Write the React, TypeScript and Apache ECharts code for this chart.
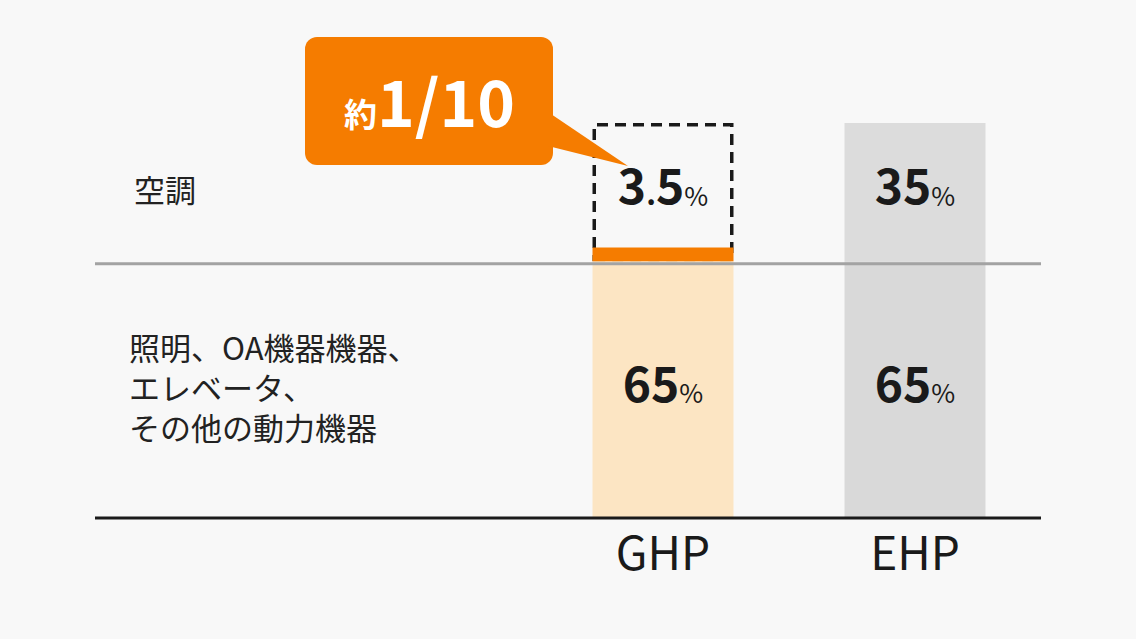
import React, { useEffect, useRef } from "react";
import * as echarts from "echarts";

const categories = ["GHP", "EHP"];
const otherLoad = [65, 65];
const aircon = [3.5, 35];
const rowLabelTop = "空調";
const rowLabelBottom = ["照明、OA機器機器、", "エレベータ、", "その他の動力機器"];
const calloutPrefix = "約";
const calloutValue = "1/10";

const FONT = '"Noto Sans CJK JP", "Noto Sans", sans-serif';
const ORANGE = "#F57C00";
const LIGHT_ORANGE = "#FCE5C3";
const GRAY_TOP = "#DCDCDC";
const GRAY_BOTTOM = "#D9D9D9";
const INK = "#1A1A1A";

const fmt = (v: number) =>
  String(v)
    .split("")
    .map((ch) => (ch === "." ? "{d|.}" : `{n|${ch}}`))
    .join("") + "{p|%}";

const rich = {
  n: { fontSize: 48, fontWeight: "bold", color: INK, fontFamily: FONT, lineHeight: 48, verticalAlign: "bottom" },
  d: { fontSize: 30, fontWeight: "bold", color: INK, fontFamily: FONT, lineHeight: 34, verticalAlign: "bottom" },
  p: { fontSize: 26, fontWeight: "normal", color: INK, fontFamily: FONT, lineHeight: 32, verticalAlign: "bottom" },
};

const LABEL_OFFSET = [0, -9];

const leftText = (text: string, x: number, y: number) => ({
  type: "text",
  x,
  y,
  style: {
    text,
    fontSize: 31,
    fontFamily: FONT,
    fill: "#222222",
    align: "left",
    verticalAlign: "middle",
    textAlign: "left",
    textVerticalAlign: "middle",
  },
});

export default function App() {
  const ref = useRef<HTMLDivElement>(null);
  useEffect(() => {
    document.body.style.margin = "0";
    document.body.style.background = "#F8F8F8";
    const chart = echarts.init(ref.current!, undefined, { renderer: "svg" });
    chart.setOption({
      animation: false,
      backgroundColor: "#F8F8F8",
      grid: { left: 537, right: 95, top: 123, bottom: 121 },
      xAxis: {
        type: "category",
        data: categories,
        axisLine: { show: false },
        axisTick: { show: false },
        axisLabel: { fontSize: 46, color: INK, margin: 9, fontFamily: FONT },
      },
      yAxis: { type: "value", min: 0, max: 100, show: false, splitLine: { show: false } },
      series: [
        {
          name: "other",
          type: "bar",
          stack: "main",
          barWidth: 141,
          barGap: "-100%",
          z: 2,
          data: otherLoad.map((v, i) => ({
            value: v,
            itemStyle: { color: i === 0 ? LIGHT_ORANGE : GRAY_BOTTOM },
          })),
          label: { show: true, position: "inside", offset: LABEL_OFFSET, formatter: (p: any) => fmt(p.value), rich },
        },
        {
          name: "aircon",
          type: "bar",
          stack: "main",
          barWidth: 141,
          barGap: "-100%",
          z: 2,
          data: aircon.map((v, i) => ({
            value: v,
            itemStyle: { color: i === 0 ? ORANGE : GRAY_TOP },
            label: { show: i !== 0 },
          })),
          label: { show: true, position: "inside", offset: LABEL_OFFSET, formatter: (p: any) => fmt(p.value), rich },
        },
        {
          name: "ghostBase",
          type: "bar",
          stack: "ghost",
          barWidth: 141,
          barGap: "-100%",
          silent: true,
          z: 1,
          data: [otherLoad[0], "-"],
          itemStyle: { color: "transparent" },
        },
        {
          name: "ghostBox",
          type: "bar",
          stack: "ghost",
          barWidth: 141,
          barGap: "-100%",
          silent: true,
          z: 1,
          data: [aircon[1], "-"],
          itemStyle: {
            color: "transparent",
            borderColor: INK,
            borderWidth: 3.5,
            borderType: [11, 7],
          },
          label: {
            show: true,
            position: "inside",
            offset: LABEL_OFFSET,
            formatter: () => fmt(aircon[0]),
            rich,
          },
        },
      ],
    });

    const y0 = chart.convertToPixel({ yAxisIndex: 0 }, 0) as number;
    const y65 = chart.convertToPixel({ yAxisIndex: 0 }, otherLoad[1]) as number;

    chart.setOption({
      graphic: [
        {
          type: "line",
          z: 100,
          shape: { x1: 95, y1: y0, x2: 1041, y2: y0 },
          style: { stroke: INK, lineWidth: 3 },
        },
        {
          type: "line",
          z: 100,
          shape: { x1: 95, y1: y65 + 2.5, x2: 1041, y2: y65 + 2.5 },
          style: { stroke: "#A3A3A3", lineWidth: 3 },
        },
        leftText(rowLabelTop, 134, 188),
        ...rowLabelBottom.map((t, i) => leftText(t, 129, 346 + i * 40)),
        {
          type: "rect",
          z: 50,
          shape: { x: 305, y: 37, width: 248, height: 128, r: 12 },
          style: { fill: ORANGE },
        },
        {
          type: "polygon",
          z: 50,
          shape: { points: [[548, 112], [628, 166], [548, 146]] },
          style: { fill: ORANGE },
        },
        {
          type: "text",
          z: 51,
          x: 344,
          y: 113,
          style: {
            text: calloutPrefix,
            fontSize: 33,
            fontWeight: "bold",
            fontFamily: FONT,
            fill: "#FFFFFF",
            align: "left",
            verticalAlign: "middle",
            textAlign: "left",
            textVerticalAlign: "middle",
          },
        },
        {
          type: "text",
          z: 51,
          x: 377,
          y: 99,
          style: {
            text: calloutValue,
            fontSize: 64,
            fontWeight: "bold",
            fontFamily: FONT,
            fill: "#FFFFFF",
            align: "left",
            verticalAlign: "middle",
            textAlign: "left",
            textVerticalAlign: "middle",
          },
        },
      ],
    });

    return () => chart.dispose();
  }, []);
  return <div ref={ref} style={{ width: 1136, height: 639 }} />;
}
